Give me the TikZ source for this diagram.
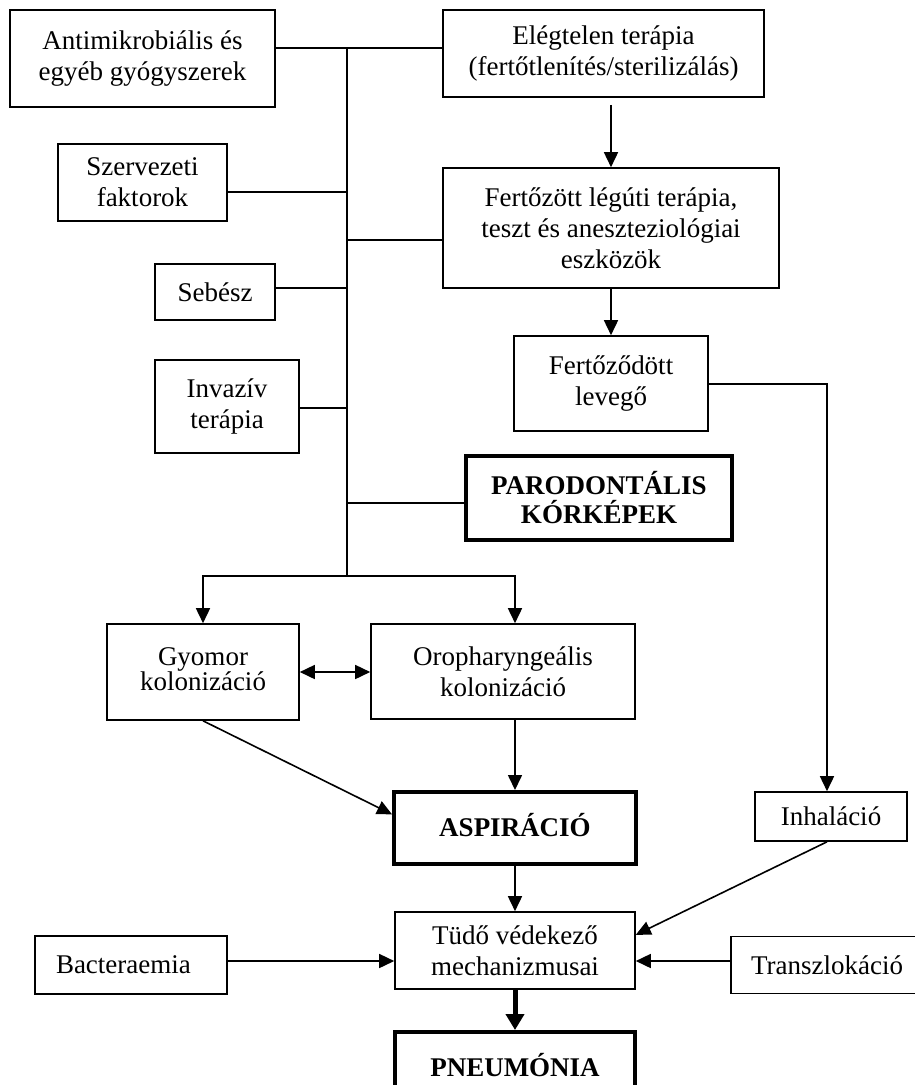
\documentclass[tikz,border=0pt]{standalone}
\usepackage{fontspec}
\setmainfont{Liberation Serif}
\usetikzlibrary{arrows.meta,calc}
\begin{document}
\begin{tikzpicture}[x=1pt,y=-1pt,
  box/.style={draw,line width=1.6pt,inner sep=0pt,align=center,font=\fontsize{27}{31}\selectfont},
  bbox/.style={box,line width=4pt,font=\fontsize{27}{29}\selectfont\bfseries},
  conn/.style={line width=1.6pt},
  arr/.style={conn,-{Triangle[length=15pt,width=14pt]}},
  darr/.style={conn,{Triangle[length=15pt,width=14pt]}-{Triangle[length=15pt,width=14pt]}},
  thickarr/.style={line width=5pt,-{Triangle[length=16pt,width=18pt]}},
]
\useasboundingbox (0,0) rectangle (915,1085);
\clip (0,0) rectangle (915,1085);

\node[box,minimum width=265pt,minimum height=97pt] (anti) at (142.5,58.5) {Antimikrobiális és\\egyéb gyógyszerek};
\node[box,minimum width=321pt,minimum height=87pt] (eleg) at (603.5,53.5) {Elégtelen terápia\\(fertőtlenítés/sterilizálás)};
\node[box,minimum width=169pt,minimum height=77pt] (szerv) at (142.5,182.5) {Szervezeti\\faktorok};
\node[box,minimum width=336pt,minimum height=120pt] (fert) at (611,228) {Fertőzött légúti terápia,\\teszt és aneszteziológiai\\eszközök};
\node[box,minimum width=120pt,minimum height=56pt] (sebesz) at (215,292) {Sebész};
\node[box,minimum width=194pt,minimum height=95pt] (levego) at (611,383.5) {Fertőződött\\levegő};
\node[box,minimum width=144pt,minimum height=93pt] (invaziv) at (227,406.5) {Invazív\\terápia};
\node[bbox,minimum width=266pt,minimum height=84pt] (parod) at (599,498) {PARODONTÁLIS\\KÓRKÉPEK};
\node[box,minimum width=192pt,minimum height=96pt,font=\fontsize{27}{28}\selectfont] (gyomor) at (203,672) {\raisebox{4pt}{\begin{tabular}{@{}c@{}}Gyomor\\[-3pt]kolonizáció\end{tabular}}};
\node[box,minimum width=264pt,minimum height=95pt] (oro) at (503,671.5) {Oropharyngeális\\kolonizáció};
\node[bbox,minimum width=242pt,minimum height=72pt] (asp) at (515,828) {\raisebox{7pt}{ASPIRÁCIÓ}};
\node[box,minimum width=152pt,minimum height=49pt] (inhal) at (831,816.5) {Inhaláció};
\node[box,minimum width=240pt,minimum height=77pt] (tudo) at (515,950.5) {Tüdő védekező\\mechanizmusai};
\node[box,minimum width=192pt,minimum height=58pt,text width=150pt,align=left] (bact) at (131,965) {Bacteraemia};
\node[box,minimum width=204pt,minimum height=57pt,text width=164pt,align=left] (transz) at (833,965) {Transzlokáció};
\node[bbox,minimum width=240pt,minimum height=72pt] (pneu) at (515,1068) {\raisebox{7pt}{PNEUMÓNIA}};

\coordinate (j1) at (347,48);
\coordinate (j2) at (347,192);
\coordinate (j3) at (347,240);
\coordinate (j4) at (347,288);
\coordinate (j5) at (347,408);
\coordinate (j6) at (347,503);
\coordinate (j7) at (347,576);
\coordinate (lc) at (827,384);
\coordinate (hy) at (515,961);

\draw[conn] (j1) -- (j7);
\draw[conn] (anti.east |- j1) -- (eleg.west |- j1);
\draw[conn] (szerv.east |- j2) -- (j2);
\draw[conn] (j3) -- (fert.west |- j3);
\draw[conn] (sebesz.east |- j4) -- (j4);
\draw[conn] (invaziv.east |- j5) -- (j5);
\draw[conn] (j6) -- (parod.west |- j6);
\draw[arr] (j7) -| (gyomor.north);
\draw[arr] (j7) -| (asp.north |- oro.north);

\draw[arr,shorten <=7pt] (fert.north |- eleg.south) -- (fert.north);
\draw[arr] (fert.south) -- (levego.north);
\draw[arr] (levego.east |- lc) -- (lc) -- (lc |- inhal.north);

\draw[darr] (gyomor.east) -- (oro.west |- gyomor.east);
\draw[arr] (gyomor.south) -- ($(asp.north west)!0.32!(asp.south west)$);
\draw[arr] (asp.north |- oro.south) -- (asp.north);
\draw[arr] (asp.south) -- (tudo.north);
\draw[arr] (lc |- inhal.south) -- ($(tudo.north east)!0.30!(tudo.south east)$);
\draw[arr] (bact.east |- hy) -- (tudo.west |- hy);
\draw[arr] (transz.west |- hy) -- (tudo.east |- hy);
\draw[thickarr] (tudo.south) -- (pneu.north);
\end{tikzpicture}
\end{document}
